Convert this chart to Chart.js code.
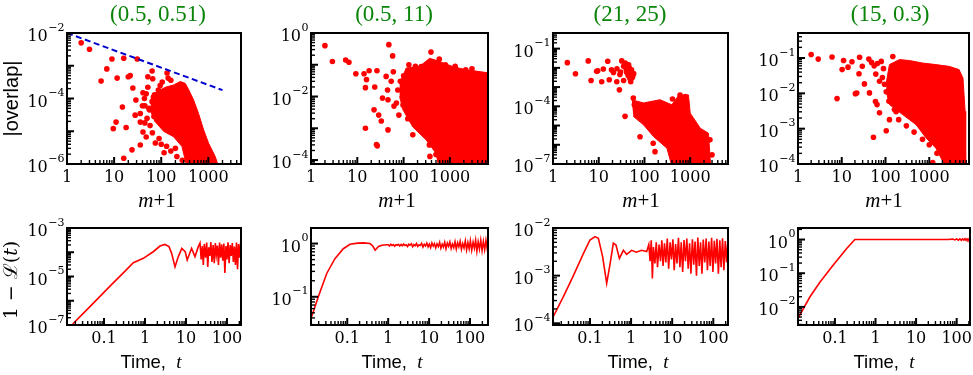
<!DOCTYPE html>
<html>
<head>
<meta charset="utf-8">
<title>|overlap| and 1 - L(t)</title>
<script src="https://cdn.jsdelivr.net/npm/chart.js@4.4.1/dist/chart.umd.min.js"></script>
<style>
body{margin:0;background:#fff;}
#fig{position:relative;width:973px;height:375px;overflow:hidden;background:#fff;}
#fig canvas{position:absolute;}
</style>
</head>
<body>
<div id="fig"></div>
<script>
// panel parameters
var titles = ["(0.5, 0.51)", "(0.5, 11)", "(21, 25)", "(15, 0.3)"];

// tick labels
var mTicks = [1, 10, 100, 1000];
var timeTicks = [0.1, 1, 10, 100];
var timeTickText = ["0.1", "1", "10", "100"];
var overlapExps = [[-2, -4, -6], [0, -2, -4], [-1, -4, -7], [-1, -2, -3, -4]];
var echoExps = [[-3, -5, -7], [0, -1], [-2, -3, -4], [0, -1, -2]];

// axis ranges
var overlapX = [[1, 4940], [1, 6650], [1, 6700], [1, 8100]];
var overlapY = [[1e-6, 1e-2], [7.5e-5, 1], [1e-7, 0.65], [1e-4, 0.51]];
var timeX = [[0.0125, 220], [0.013, 275], [0.0126, 228], [0.0123, 213]];
var echoY = [[1e-7, 1e-3], [0.0295, 1.96], [9.2e-5, 1e-2], [0.0029, 2.2]];

// top row: |overlap| against m+1   [m+1, |overlap|]
var dots1 = [[2,5e-3],[3,3.2e-3],[5.3,3.4e-4],[7,8e-4],[9,1.6e-3],[11.6,4.2e-4],[11,1.9e-5],[9.6,1.2e-5],
  [16,1.7e-3],[20,4.6e-4],[22,5e-4],[18,1.3e-5],[15,5.5e-5],[16,1.5e-6],[24,2.7e-6],[25,2.1e-4],[29,9e-5],
  [31,1.6e-3],[28,3.1e-5],[36,3.8e-6],[41,1.5e-4],[48,6.7e-6],[52,4.6e-4],[64,6.9e-4],[66,4e-4],[56,4.5e-5],
  [75,4.4e-6],[82,2.2e-5],[105,3.2e-4],[115,2.2e-6],[133,6e-4],[87,1.8e-4],[64,8e-5],[52,2.2e-4],[45,6e-5],
  [36,1.9e-5],[41,9.5e-6],[215,1.7e-6],[280,1.3e-6],[36,3.5e-5],[40,6e-5],[44,1e-4],[48,1.4e-4],[50,2.5e-5],
  [45,1.8e-5],[55,5e-5],[58,1.5e-5],[65,9e-6],[70,2.8e-5],[90,6e-6],[100,4e-6],[130,3.5e-6],[160,2.5e-6],
  [200,3e-6],[140,4.2e-4],[160,3.6e-4],[95,2.5e-4],[72,1.3e-4],[110,1.6e-5]];
var cloud1 = [[60,1.2e-4],[81,1.6e-4],[122,2.2e-4],[183,2.6e-4],[254,3.3e-4],[323,2.9e-4],[380,1.9e-4],
  [487,9e-5],[620,3.5e-5],[795,1.1e-5],[1015,4.3e-6],[1400,1.7e-6],[1660,8e-7],[352,8e-7],[276,3.4e-6],
  [183,6.8e-6],[112,1e-5],[74,2e-5],[60,4e-5]];
var guide1 = [[1, 1e-2], [2000, 1.8e-4]];

var dots2 = [[2,0.4],[2.9,0.126],[5.6,0.14],[6.6,0.12],[9.3,0.052],[14,0.052],[15.8,0.034],[18,0.065],
  [15,0.019],[23.8,0.02],[26.6,0.065],[42,0.043],[48,0.43],[58,0.19],[54,0.03],[45,0.016],[35,8.9e-3],
  [29,2.6e-3],[33,1.7e-3],[23,3.8e-3],[15,1e-3],[26,3.1e-4],[27,2.8e-4],[46,7.9e-3],[70,6.2e-3],[79,2.6e-3],
  [46,8.9e-4],[62,5e-3],[75,0.016],[97,5.4e-3],[123,2e-3],[158,6.2e-4],[240,0.088],[390,0.25],[590,0.15],
  [360,3e-4],[370,1.3e-4],[590,3e-4],[158,0.07],[2200,0.07],[60,0.06],[85,0.03],[100,0.045],[130,0.1],
  [180,0.09],[300,0.06],[450,0.12],[800,0.1],[1300,0.09],[3000,0.075],[500,1.5e-4]];
var cloud2 = [[82,0.026],[114,0.079],[220,0.088],[365,0.16],[590,0.127],[1150,0.088],[2200,0.07],
  [4000,0.062],[7000,0.055],[7000,5e-5],[590,5e-5],[505,1.6e-4],[307,4.3e-4],[158,1.1e-3],[97,3.8e-3],[82,0.01]];

var dots3 = [[2.06,0.0187],[3.1,4.9e-3],[5.9,0.023],[6.8,2.2e-3],[9,6.6e-3],[9.5,7e-3],[12.6,8.7e-3],
  [11.6,1.9e-3],[15.7,0.022],[17,2.4e-3],[19,7.9e-3],[21,5.7e-3],[24.8,1.9e-3],[28.3,7.2e-4],[31.8,0.023],
  [35,0.012],[41,5.7e-3],[47,9.8e-3],[53,3e-3],[50,1.9e-3],[35,2.2e-3],[45,0.0146],[55,3.5e-3],[29,4.5e-3],
  [37.6,3e-5],[57,2.7e-4],[60,1.2e-4],[80,2.6e-6],[155,1.2e-6],[170,4.4e-7],[410,2.4e-4],[600,3.9e-4],
  [780,3.2e-4],[2700,1.8e-6],[3000,3e-7],[40,8e-3],[50,6e-3],[58,5e-3],[38,0.018],[43,0.011],[52,0.008],
  [56,0.0045],[48,0.0028],[44,0.004],[30,0.006],[25,0.009]];
var cloud3 = [[52.6,2.2e-4],[95,1.5e-4],[219,2.2e-4],[396,1.2e-4],[550,3.5e-4],[915,3.9e-4],[1000,4.4e-5],
  [1660,7.3e-6],[2500,4e-6],[2800,8e-8],[396,8e-8],[310,6.6e-7],[157,2.7e-6],[95,1.1e-5],[57,3e-5]];

var dots4 = [[2,0.126],[2.9,0.093],[6,0.107],[7.8,7.1e-3],[11,0.085],[10.2,0.047],[13.9,0.055],[17.1,0.078],
  [25.6,0.105],[29.5,0.058],[24.8,0.036],[20.5,9.8e-3],[22,0.0102],[43,0.0103],[33,0.0185],[41.6,0.093],
  [53,5.7e-4],[59,5.9e-3],[64,4.8e-3],[73,2.8e-3],[104,8.7e-4],[73,0.022],[104,0.011],[147,0.11],[48,0.075],
  [55,0.06],[65,0.07],[80,0.08],[90,0.05],[60,0.035],[85,0.028],[95,0.018],[120,6e-3],[160,3.5e-3],
  [200,1.8e-3],[300,1.2e-3],[450,8e-4],[700,5e-4],[1000,3.5e-4],[1500,2e-4],[1200,1.1e-4],[2500,1.3e-4],
  [3500,1.5e-4],[5000,1.2e-4],[123,1.8e-3],[175,3e-3]];
var cloud4 = [[104,0.0196],[123,0.065],[208,0.09],[350,0.085],[705,0.072],[1420,0.065],[2840,0.058],
  [4800,0.047],[5900,0.027],[6600,3.1e-3],[6800,8e-5],[2400,8e-5],[1420,2.8e-4],[840,5.5e-4],[500,1.3e-3],
  [247,2.5e-3],[123,4.8e-3],[104,0.0115]];

// bottom row: 1 - L(t) against time   [t, value]
var echo1 = [[0.016,8e-8],[0.0178,1.17e-7],[0.05,6.8e-7],[0.15,4.5e-6],[0.3,1.45e-5],[0.52,3.7e-5],
  [0.91,5.6e-5],[1.59,1.05e-4],[2.32,1.8e-4],[3.07,2.1e-4],[3.85,1.7e-4],[4.47,9e-5],[5.4,2.5e-5],[6.5,6.6e-5],
  [7.9,1.45e-4],[9.6,1.05e-4],[10.7,4.8e-5],[13.7,1.45e-4],[16.6,6.6e-5],[20,1.7e-4],
  [22,2.4e-4],[23.5,5e-5],[25,1.8e-4],[26.5,3e-5],[28,2.2e-4],[30,6e-5],[32,2.5e-4],[34,2.5e-5],[36,1.6e-4],
  [38,7e-5],[40.5,2.6e-4],[43,4e-5],[46,2e-4],[49,3.5e-5],[52,2.4e-4],[55,8e-5],[58.5,1.9e-4],[62,3e-5],
  [66,2.5e-4],[70,6e-5],[74.5,2.1e-4],[79,4.5e-5],[84,2.3e-4],[89,1.4e-5],[94.5,1.8e-4],[100,5e-5],
  [106,2.6e-4],[113,3.5e-5],[120,2e-4],[127,7e-5],[135,2.4e-4],[143,4e-5],[152,1.7e-4],[161,3e-5],
  [171,2.5e-4],[181,2e-5],[192,2.2e-4],[204,6e-5],[216,2.5e-4],[220,2.5e-5]];
var echo2 = [[0.013,0.039],[0.0196,0.1],[0.0315,0.274],[0.05,0.52],[0.08,0.8],[0.117,0.97],[0.18,1.02],
  [0.247,1.03],[0.36,1.0],[0.42,0.9],[0.48,0.75],[0.58,0.88],[0.7,0.93],[0.92,0.95],
  [1,0.95],[1.075,0.9],[1.16,0.97],[1.24,0.92],[1.34,0.96],[1.44,0.89],[1.55,0.95],[1.66,0.93],[1.79,0.97],
  [1.92,0.9],[2.07,0.96],[2.22,0.91],[2.39,0.98],[2.57,0.92],[2.76,0.95],[2.97,0.88],[3.19,0.97],[3.43,0.93],
  [3.69,0.99],[3.96,0.87],[4.26,0.96],[4.58,0.91],[4.92,1.0],[5.29,0.88],[5.69,0.95],[6.12,0.92],[6.57,1.01],
  [7.07,0.86],[7.6,0.97],[8.17,0.9],[8.78,1.02],[9.44,0.87],[10.1,0.98],[10.9,0.84],[11.7,1.03],[12.6,0.9],
  [13.5,1.0],[14.5,0.83],[15.6,0.99],[16.8,0.88],[18.1,1.05],[19.4,0.82],[20.9,0.97],[22.4,0.86],[24.1,1.06],
  [25.9,0.8],[27.9,1.02],[30,0.89],[32.2,1.07],[34.6,0.81],[37.2,0.98],[40,0.84],[43,1.08],[46.2,0.79],
  [49.7,1.03],[53.4,0.87],[57.4,1.1],[61.7,0.78],[66.4,1.0],[71.3,0.83],[76.7,1.12],[82.4,0.76],[88.6,1.04],
  [95.3,0.8],[102,1.13],[110,0.75],[119,1.06],[128,0.82],[137,1.15],[147,0.72],[158,1.08],[170,0.79],
  [183,1.16],[197,0.74],[212,1.1],[228,0.77],[245,1.14],[263,0.8],[275,1.05]];
var echo3 = [[0.0127,1.36e-4],[0.0224,3.6e-4],[0.039,9.8e-4],[0.069,2.9e-3],[0.1,5.6e-3],[0.133,6.6e-3],
  [0.16,6.1e-3],[0.203,2.5e-3],[0.255,6.9e-4],[0.31,1.8e-3],[0.37,4.8e-3],[0.43,4.4e-3],[0.52,2.3e-3],
  [0.65,3.4e-3],[0.78,2.8e-3],[1.03,3.4e-3],[1.35,3.1e-3],[1.8,3.4e-3],[2.4,3.2e-3],
  [2.7,4.5e-3],[2.9,2e-3],[3.1,5.5e-3],[3.3,8.7e-4],[3.5,4e-3],[3.8,1.8e-3],[4.1,5e-3],[4.4,1.5e-3],
  [4.8,4.5e-3],[5.2,2e-3],[5.6,5.5e-3],[6,1.6e-3],[6.5,4.8e-3],[7,1.9e-3],[7.6,6e-3],[8.2,1.4e-3],[8.9,5e-3],
  [9.6,2.2e-3],[10.4,5.8e-3],[11.2,1.3e-3],[12.1,4.6e-3],[13.1,1.8e-3],[14.2,6.2e-3],[15.4,1.5e-3],
  [16.6,5e-3],[18,1.2e-3],[19.4,5.6e-3],[21,2e-3],[22.7,6e-3],[24.5,1.4e-3],[26.5,4.8e-3],[28.6,1.1e-3],
  [31,5.8e-3],[33.5,1.7e-3],[36,5.2e-3],[39,1e-3],[42,6.3e-3],[45.5,1.6e-3],[49,5e-3],[53,1.1e-3],
  [57,5.7e-3],[62,1.9e-3],[67,6e-3],[72,1.3e-3],[78,5.2e-3],[84,1.6e-3],[91,6.2e-3],[98,1.2e-3],
  [106,5.4e-3],[114,1.8e-3],[123,5.9e-3],[133,1.1e-3],[144,5.5e-3],[155,1.5e-3],[168,6.1e-3],[181,1.3e-3],
  [196,5.3e-3],[211,1.9e-3],[228,5.6e-3]];
var echo4 = [[0.0123,0.0046],[0.0243,0.02],[0.043,0.055],[0.091,0.174],[0.195,0.54],[0.31,1.0],[1,1.0],
  [10,1.0],[60,1.0],[80,1.03],[90,0.97],[100,1.04],[110,0.96],[120,1.05],[130,0.95],[140,1.04],[150,0.96],
  [160,1.06],[170,0.95],[180,1.05],[190,0.96],[200,1.04],[213,0.97]];

// ---- layout (page pixels) ----
var cols = [{L:67,R:241,ox:0,w:255},{L:311,R:488,ox:255,w:245},{L:553,R:728,ox:500,w:240},{L:798,R:970,ox:740,w:233}];
var rows = [{T:33,B:164,oy:0,h:210},{T:228,B:325,oy:210,h:165}];
var titleX = [158, 394, 630, 890];
var mLabelX = [157, 397, 641, 884];
var timeLabelX = [151, 392, 638, 884];

var RED = '#ff0000';
var SERIF = '"DejaVu Serif", serif';

function pts(a) { return a.map(function (p) { return { x: p[0], y: p[1] }; }); }
function cloud(a) {
  return { data: pts(a), showLine: true, fill: 'shape', backgroundColor: RED, borderColor: RED,
    borderWidth: 1, pointRadius: 0, clip: 0, order: 3 };
}
function dots(a) {
  return { data: pts(a), showLine: false, pointRadius: 2.8, pointBackgroundColor: RED,
    pointBorderColor: RED, pointBorderWidth: 0, clip: 0, order: 2 };
}
function curve(a) {
  return { data: pts(a), showLine: true, borderColor: RED, borderWidth: 1.6, pointRadius: 0, clip: 0, order: 1 };
}

function richText(ctx, parts, cx, y) {
  var w = 0;
  parts.forEach(function (p) { ctx.font = p[1]; w += ctx.measureText(p[0]).width; });
  var x = cx - w / 2;
  parts.forEach(function (p) { ctx.font = p[1]; ctx.fillText(p[0], x, y); x += ctx.measureText(p[0]).width; });
}

function logTicks(scale, cb) {
  var lo = Math.floor(Math.log10(scale.min)), hi = Math.ceil(Math.log10(scale.max));
  for (var d = lo; d <= hi; d++) {
    for (var k = 1; k < 10; k++) {
      var v = k * Math.pow(10, d);
      if (v >= scale.min * 0.999 && v <= scale.max * 1.001) cb(scale.getPixelForValue(v), k === 1);
    }
  }
}

var decor = {
  id: 'decor',
  afterDraw: function (chart) {
    var o = chart.options.plugins.decor;
    var ctx = chart.ctx, a = chart.chartArea;
    var xs = chart.scales.x, ys = chart.scales.y;
    ctx.save();
    ctx.strokeStyle = '#000';
    ctx.fillStyle = '#000';
    // inward ticks on left and bottom
    logTicks(xs, function (px, major) {
      ctx.lineWidth = major ? 2 : 1.4;
      ctx.beginPath(); ctx.moveTo(px, a.bottom); ctx.lineTo(px, a.bottom - (major ? 7 : 4)); ctx.stroke();
    });
    logTicks(ys, function (py, major) {
      ctx.lineWidth = major ? 2 : 1.4;
      ctx.beginPath(); ctx.moveTo(a.left, py); ctx.lineTo(a.left + (major ? 7 : 4), py); ctx.stroke();
    });
    ctx.lineWidth = 2;
    ctx.strokeRect(a.left, a.top, a.right - a.left, a.bottom - a.top);

    // x tick labels
    ctx.textAlign = 'center';
    ctx.textBaseline = 'alphabetic';
    ctx.font = '16px ' + SERIF;
    o.xTicks.forEach(function (v, i) {
      ctx.fillText(o.xText[i], xs.getPixelForValue(v), a.bottom + 17.5);
    });
    // y tick labels 10^n
    ctx.textAlign = 'left';
    o.yExps.forEach(function (e) {
      var y = ys.getPixelForValue(Math.pow(10, e));
      var sup = e < 0 ? '\u2212' + (-e) : '' + e;
      ctx.font = '16px ' + SERIF;
      var w10 = ctx.measureText('10').width;
      ctx.font = '11px ' + SERIF;
      var ws = ctx.measureText(sup).width;
      var x0 = a.left - 3 - ws - w10;
      ctx.font = '16px ' + SERIF;
      ctx.fillText('10', x0, y + 8);
      ctx.font = '11px ' + SERIF;
      ctx.fillText(sup, x0 + w10 + 0.5, y - 2.5);
    });

    // titles and axis labels (page coordinates shifted into this canvas)
    if (o.title) {
      ctx.fillStyle = '#0a850a';
      richText(ctx, [[o.title, '23px "Liberation Serif", serif']], o.titleX - o.ox, 21 - o.oy);
      ctx.fillStyle = '#000';
    }
    if (o.kind === 'm') {
      richText(ctx, [['m', 'italic 21px "Liberation Serif", serif'], ['+1', '21px "Liberation Serif", serif']],
        o.labelX - o.ox, 207 - o.oy);
    } else {
      richText(ctx, [['Time,  ', '18.5px "Liberation Sans", sans-serif'], ['t', 'italic 19px "Liberation Serif", serif']],
        o.labelX - o.ox, 368 - o.oy);
    }
    if (o.yLabel) {
      ctx.translate(o.yLabel.x - o.ox, o.yLabel.y - o.oy);
      ctx.rotate(-Math.PI / 2);
      richText(ctx, o.yLabel.parts, 0, 0);
    }
    ctx.restore();
  }
};

var fig = document.getElementById('fig');

function panel(ci, ri, datasets, xr, yr, extra) {
  var c = cols[ci], r = rows[ri];
  var cv = document.createElement('canvas');
  cv.width = c.w; cv.height = r.h;
  cv.style.left = c.ox + 'px'; cv.style.top = r.oy + 'px';
  cv.style.width = c.w + 'px'; cv.style.height = r.h + 'px';
  fig.appendChild(cv);
  var deco = Object.assign({ ox: c.ox, oy: r.oy }, extra);
  new Chart(cv, {
    type: 'scatter',
    data: { datasets: datasets },
    options: {
      responsive: false, animation: false, events: [],
      layout: { padding: { left: c.L - c.ox, right: c.ox + c.w - c.R, top: r.T - r.oy, bottom: r.oy + r.h - r.B } },
      scales: {
        x: { type: 'logarithmic', min: xr[0], max: xr[1], bounds: 'data', display: false },
        y: { type: 'logarithmic', min: yr[0], max: yr[1], bounds: 'data', display: false }
      },
      plugins: { legend: { display: false }, tooltip: { enabled: false }, decor: deco }
    },
    plugins: [decor]
  });
}

var topSets = [
  [cloud(cloud1), dots(dots1),
   { data: pts(guide1), showLine: true, borderColor: '#0000cd', borderDash: [6, 3.5], borderWidth: 2, pointRadius: 0, order: 0 }],
  [cloud(cloud2), dots(dots2)],
  [cloud(cloud3), dots(dots3)],
  [cloud(cloud4), dots(dots4)]
];
var bottomSets = [[curve(echo1)], [curve(echo2)], [curve(echo3)], [curve(echo4)]];

for (var i = 0; i < 4; i++) {
  panel(i, 0, topSets[i], overlapX[i], overlapY[i], {
    title: titles[i], titleX: titleX[i], kind: 'm', labelX: mLabelX[i],
    xTicks: mTicks, xText: mTicks.map(String), yExps: overlapExps[i],
    yLabel: i === 0 ? { x: 18, y: 98.5, parts: [['|overlap|', '20px "Liberation Sans", sans-serif']] } : null
  });
  panel(i, 1, bottomSets[i], timeX[i], echoY[i], {
    kind: 'time', labelX: timeLabelX[i],
    xTicks: timeTicks, xText: timeTickText, yExps: echoExps[i],
    yLabel: i === 0 ? { x: 17, y: 280, parts: [['1 \u2212 ', '19px ' + SERIF], ['\u2112', '19px ' + SERIF],
      ['(', '19px ' + SERIF], ['t', 'italic 19px ' + SERIF], [')', '19px ' + SERIF]] } : null
  });
}
</script>
</body>
</html>
